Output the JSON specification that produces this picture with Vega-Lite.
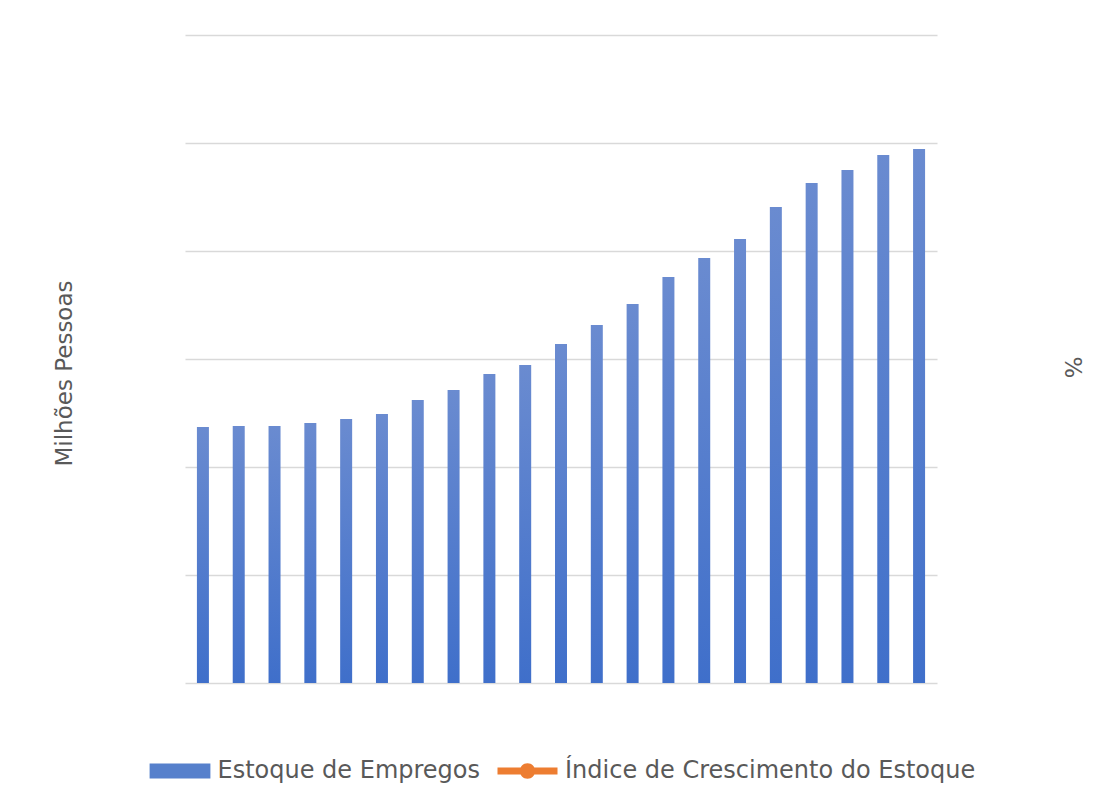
{
  "$schema": "https://vega.github.io/schema/vega-lite/v6.json",
  "autosize": {"type": "none"},
  "width": 752,
  "height": 648,
  "padding": {"left": 185, "top": 35, "right": 181, "bottom": 107},
  "background": "white",
  "config": {
    "font": "DejaVu Sans",
    "view": {"stroke": null},
    "axis": {
      "titleFont": "DejaVu Sans",
      "titleFontSize": 23,
      "titleFontWeight": "normal",
      "titleColor": "#595959"
    }
  },
  "datasets": {
    "estoque": [
      {"ano": "1994", "estoque": 23.70},
      {"ano": "1995", "estoque": 23.80},
      {"ano": "1996", "estoque": 23.80},
      {"ano": "1997", "estoque": 24.07},
      {"ano": "1998", "estoque": 24.44},
      {"ano": "1999", "estoque": 24.91},
      {"ano": "2000", "estoque": 26.20},
      {"ano": "2001", "estoque": 27.13},
      {"ano": "2002", "estoque": 28.61},
      {"ano": "2003", "estoque": 29.44},
      {"ano": "2004", "estoque": 31.39},
      {"ano": "2005", "estoque": 33.15},
      {"ano": "2006", "estoque": 35.09},
      {"ano": "2007", "estoque": 37.59},
      {"ano": "2008", "estoque": 39.35},
      {"ano": "2009", "estoque": 41.11},
      {"ano": "2010", "estoque": 44.07},
      {"ano": "2011", "estoque": 46.30},
      {"ano": "2012", "estoque": 47.50},
      {"ano": "2013", "estoque": 48.89},
      {"ano": "2014", "estoque": 49.44}
    ],
    "indice": [
      {"ano": "1994", "indice": null, "serie": "Estoque de Empregos"},
      {"ano": "2014", "indice": null, "serie": "Índice de Crescimento do Estoque"}
    ]
  },
  "layer": [
    {
      "data": {"name": "estoque"},
      "mark": {
        "type": "bar",
        "strokeWidth": 0,
        "fill": {"gradient": "linear", "x1": 0, "y1": 0, "x2": 0, "y2": 1,
                 "stops": [{"offset": 0, "color": "#6a8bd0"}, {"offset": 1, "color": "#3f6fca"}]}
      },
      "encoding": {
        "x": {
          "field": "ano",
          "type": "ordinal",
          "scale": {"paddingInner": 0.665, "paddingOuter": 0.333},
          "axis": {"labels": false, "ticks": false, "domain": false, "title": null}
        },
        "y": {
          "field": "estoque",
          "type": "quantitative",
          "scale": {"domain": [0, 60]},
          "axis": {
            "values": [0, 10, 20, 30, 40, 50, 60],
            "labels": false,
            "ticks": false,
            "domain": false,
            "grid": true,
            "gridColor": "#d9d9d9",
            "gridWidth": 1.5,
            "title": "Milhões Pessoas",
            "titlePadding": 109,
            "titleY": 338
          }
        }
      }
    },
    {
      "data": {"name": "indice"},
      "mark": {"type": "point", "filled": true},
      "encoding": {
        "x": {"field": "ano", "type": "ordinal"},
        "y": {
          "field": "indice",
          "type": "quantitative",
          "scale": {"domain": [0, 1]},
          "axis": {
            "orient": "right",
            "labels": false,
            "ticks": false,
            "domain": false,
            "grid": false,
            "title": "%",
            "titlePadding": 122,
            "titleY": 332
          }
        },
        "color": {
          "field": "serie",
          "type": "nominal",
          "scale": {
            "domain": ["Estoque de Empregos", "Índice de Crescimento do Estoque"],
            "range": ["#5680cc", "#ED7D31"]
          },
          "legend": {
            "title": null,
            "orient": "none",
            "legendX": -17,
            "legendY": 724,
            "direction": "horizontal",
            "padding": 0,
            "labelFont": "DejaVu Sans",
            "labelFontSize": 24,
            "labelColor": "#595959",
            "labelOffset": 25.5,
            "labelLimit": 1000,
            "columnPadding": 16.5,
            "symbolSize": 256,
            "symbolStrokeWidth": 0,
            "symbolOpacity": 1,
            "symbolType": {"expr": "datum.value === 'Estoque de Empregos' ? 'M-3.8,-0.95H3.8V0.95H-3.8Z' : 'M-3.75,-0.44H3.75V0.44H-3.75Z M0.97,0A0.97,0.97,0,1,1,-0.97,0A0.97,0.97,0,1,1,0.97,0Z'"}
          }
        }
      }
    }
  ],
  "resolve": {"scale": {"y": "independent"}}
}
